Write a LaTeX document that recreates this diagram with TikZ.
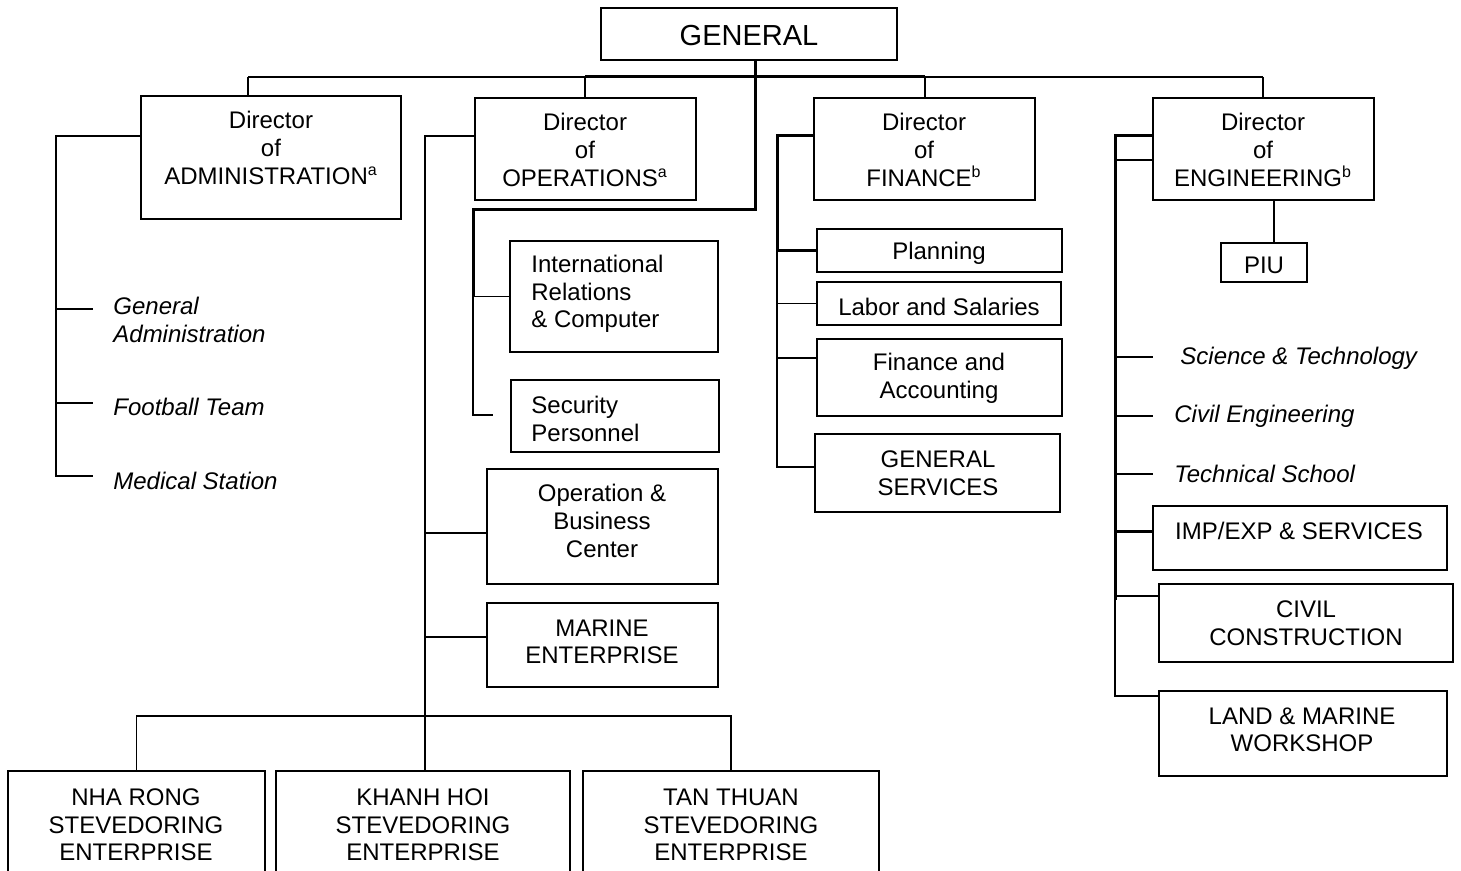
\documentclass[tikz,border=0pt]{standalone}
\usepackage{fontspec}
\setmainfont{Liberation Sans}
\newcommand{\orgbox}[5]{\node[box,minimum width={(#4-#2)*0.5pt},minimum height={(#5-#3)*0.5pt}] (#1) at ({(#2+#4)/2},{(#3+#5)/2}) {};}
\begin{document}
\begin{tikzpicture}[x=0.5pt,y=-0.5pt,
  box/.style={draw,line width=0.9pt,inner sep=0pt},
  txt/.style={inner sep=0pt,align=center,font=\fontsize{12}{13.8}\selectfont},
  ltxt/.style={txt,align=left,anchor=west},
  itxt/.style={ltxt,font=\fontsize{12}{13.8}\selectfont\itshape},
  conn/.style={line width=0.75pt},
  bold/.style={line width=1.5pt}]
\useasboundingbox (0,0) rectangle (1461,871);
% boxes
\orgbox{gen}{601}{8}{897}{60}
\orgbox{adm}{141}{96}{401}{219}
\orgbox{ops}{475}{98}{696}{200}
\orgbox{fin}{814}{98}{1035}{200}
\orgbox{eng}{1153}{98}{1374}{200}
\orgbox{intl}{510}{241}{718}{352}
\orgbox{sec}{511}{380}{719}{452}
\orgbox{opb}{487}{469}{718}{584}
\orgbox{mar}{487}{603}{718}{687}
\orgbox{nha}{8}{771}{265}{895}
\orgbox{kho}{276}{771}{570}{895}
\orgbox{tth}{583}{771}{879}{895}
\orgbox{plan}{817}{229}{1062}{272}
\orgbox{lab}{817}{282}{1061}{325}
\orgbox{fa}{817}{339}{1062}{416}
\orgbox{gs}{815}{434}{1060}{512}
\orgbox{piu}{1221}{243}{1307}{282}
\orgbox{imp}{1153}{506}{1447}{570}
\orgbox{cc}{1159}{584}{1453}{662}
\orgbox{lm}{1159}{691}{1447}{776}
% texts
\node[txt,font=\fontsize{14.5}{17}\selectfont] (gen-t) at (749,36) {GENERAL};
\node[txt] (adm-t) at (271,148) {Director\\of\\ADMINISTRATION\textsuperscript{a}};
\node[txt] (ops-t) at (585,150) {Director\\of\\OPERATIONS\textsuperscript{a}};
\node[txt] (fin-t) at (924,150) {Director\\of\\FINANCE\textsuperscript{b}};
\node[txt] (eng-t) at (1263,150) {Director\\of\\ENGINEERING\textsuperscript{b}};
\node[ltxt] (intl-t) at (531,294) {International\\Relations\\\& Computer};
\node[ltxt] (sec-t) at (531,419) {Security\\Personnel};
\node[txt] (opb-t) at (602,521) {Operation \&\\Business\\Center};
\node[txt] (mar-t) at (602,642) {MARINE\\ENTERPRISE};
\node[txt] (nha-t) at (136,825) {NHA RONG\\STEVEDORING\\ENTERPRISE};
\node[txt] (kho-t) at (423,825) {KHANH HOI\\STEVEDORING\\ENTERPRISE};
\node[txt] (tth-t) at (731,825) {TAN THUAN\\STEVEDORING\\ENTERPRISE};
\node[txt] (plan-t) at (939,253) {Planning};
\node[txt] (lab-t) at (939,307) {Labor and Salaries};
\node[txt] (fa-t) at (939,378) {Finance and\\Accounting};
\node[txt] (gs-t) at (938,473) {GENERAL\\SERVICES};
\node[txt] (piu-t) at (1264,265) {PIU};
\node[itxt] (st-t) at (1180,358) {Science \& Technology};
\node[itxt] (ce-t) at (1174,416) {Civil Engineering};
\node[itxt] (ts-t) at (1174,474) {Technical School};
\node[txt] (imp-t) at (1299,531) {IMP/EXP \& SERVICES};
\node[txt] (cc-t) at (1306,623) {CIVIL\\CONSTRUCTION};
\node[txt] (lm-t) at (1302,730) {LAND \& MARINE\\WORKSHOP};
\node[itxt] (ga-t) at (113,320) {General\\Administration};
\node[itxt] (ft-t) at (113,407) {Football Team};
\node[itxt] (ms-t) at (113,481) {Medical Station};
% top bus
\coordinate (b1) at (248,77);
\coordinate (b2) at (585,77);
\coordinate (b3) at (925,77);
\coordinate (b4) at (1263,77);
\draw[conn] (b1) -- (b2) (b3) -- (b4);
\draw[bold] (b2) -- (b3);
\draw[conn] (b1) -- (b1 |- adm.north);
\draw[conn] (b2) -- (b2 |- ops.north);
\draw[conn] (b3) -- (b3 |- fin.north);
\draw[conn] (b4) -- (b4 |- eng.north);
% operations, inner
\coordinate (r1) at (755,210);
\coordinate (r2) at (473,210);
\coordinate (r3) at (473,415);
\coordinate (secend) at (493,415);
\draw[bold] (r1 |- gen.south) -- (r1) -- (r2) -- (r2 |- intl.west);
\draw[conn] (r2 |- intl.west) -- (intl.west);
\draw[conn] (r2 |- intl.west) -- (r3) -- (secend);
% operations, outer
\coordinate (o1) at (425,136);
\coordinate (o2) at (425,716);
\draw[conn] (o1 -| ops.west) -- (o1) -- (o2);
\draw[conn] (o1 |- 0,533) -- (opb.west |- 0,533);
\draw[conn] (o1 |- 0,637) -- (mar.west |- 0,637);
\draw[conn] (nha.north) |- (o2) -| (tth.north);
\draw[conn] (o2) -- (o2 |- kho.north);
% administration
\coordinate (a1) at (56,136);
\coordinate (ga) at (93,309);
\coordinate (ft) at (93,403);
\coordinate (ms) at (93,476);
\draw[conn] (a1 -| adm.west) -- (a1) -- (a1 |- ms) -- (ms);
\draw[conn] (a1 |- ga) -- (ga);
\draw[conn] (a1 |- ft) -- (ft);
% finance
\coordinate (f1) at (777,136);
\draw[bold] (f1 -| fin.west) -- (f1) -- (f1 |- plan.west) -- (plan.west);
\draw[conn] (f1 |- plan.west) -- (f1 |- 0,467) -- (gs.west |- 0,467);
\draw[conn] (f1 |- lab.west) -- (lab.west);
\draw[conn] (f1 |- 0,358) -- (fa.west |- 0,358);
% engineering
\coordinate (e1) at (1115,136);
\coordinate (e2) at (1115,600);
\coordinate (st) at (1153,357);
\coordinate (ce) at (1153,416);
\coordinate (ts) at (1153,474);
\draw[bold] (e1 -| eng.west) -- (e1) -- (e2);
\draw[conn] (e2) -- (e2 |- 0,696) -- (lm.west |- 0,696);
\draw[conn] (e1 |- 0,160) -- (eng.west |- 0,160);
\draw[conn] (e1 |- st) -- (st);
\draw[conn] (e1 |- ce) -- (ce);
\draw[conn] (e1 |- ts) -- (ts);
\draw[bold] (e1 |- 0,531) -- (imp.west |- 0,531);
\draw[conn] (e1 |- 0,596) -- (cc.west |- 0,596);
\coordinate (p1) at (1274,200);
\draw[conn] (p1) -- (p1 |- piu.north);
\end{tikzpicture}
\end{document}
